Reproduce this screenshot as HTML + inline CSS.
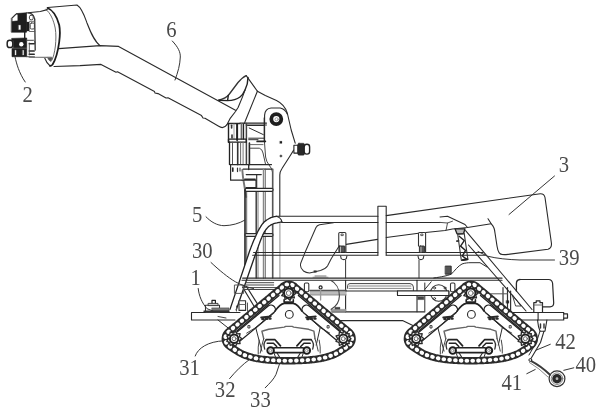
<!DOCTYPE html>
<html lang="en">
<head>
<meta charset="utf-8">
<title>Figure</title>
<style>
html,body{margin:0;padding:0;background:#fff;}
body{width:602px;height:417px;overflow:hidden;}
svg{display:block;will-change:transform;}
svg text{font-family:"Liberation Serif","DejaVu Serif",serif;}
svg path,svg line,svg circle,svg rect,svg ellipse{stroke-linecap:round;stroke-linejoin:round;}
</style>
</head>
<body>
<svg width="602" height="417" viewBox="0 0 602 417">
<rect x="0" y="0" width="602" height="417" fill="#ffffff" stroke="none"/>
<path d="M47.8,7.5 L77,5 C82,8 84.5,16 87,23 C90.5,32 94,41 100,45.6" stroke="#2a2a2a" stroke-width="1.1" fill="none" />
<path d="M58.7,48.6 L100,45.6 L118.6,46.4 L235.5,110.3" stroke="#2a2a2a" stroke-width="1.1" fill="none" />
<path d="M54,66.5 L80,65.6 L101,64.4 L116,72.3 L117.5,71.8 L154.5,91.6 L155,93 L158,93.6 L166,98 L168,97.8 L201.5,115.6 L203,118 L205,118.2 L218.7,126.3 Q223.5,129.5 227,124.6" stroke="#2a2a2a" stroke-width="1.1" fill="none" />
<path d="M47.5,8 C53,10 57,17 59.2,25 C60.2,30 60,36 59.2,42 C58,51 56,59 52.6,64.5 Q51,66.3 49.8,65.6" stroke="#1c1c1c" stroke-width="1.8" fill="none" />
<path d="M46,9.5 C50.5,13 53.5,20 55.2,28 C56.2,34 56,40 55.4,46 C54.6,52 53.5,57 52,60" stroke="#555" stroke-width="0.88" fill="none" />
<path d="M49.8,65.6 C47.5,63.5 45.8,61 44.8,58.2" stroke="#2a2a2a" stroke-width="1.1" fill="none" />
<path d="M47.3,57.4 L52.2,57.4 L51,61.5 Q49,61 47.3,57.4 Z" stroke="#555" stroke-width="0.66" fill="#555" />
<path d="M28,12.8 L40.3,11.5 L47.3,9.6" stroke="#2a2a2a" stroke-width="1.1" fill="none" />
<path d="M29.2,57.2 L51.4,57.4" stroke="#777" stroke-width="1.1" fill="none" />
<path d="M34.7,19 L35.2,50" stroke="#333" stroke-width="1.32" fill="none" />
<path d="M11.6,18.1 L16.1,13.6 L26.5,12.8 L26.5,32.2 L11.6,32.2 Z" stroke="#1e1e1e" stroke-width="0.66" fill="#1e1e1e" />
<path d="M12.6,18.6 L16.3,14.7 L17.4,14.7 L17.4,20.4 L12.6,21 Z" stroke="#fff" stroke-width="0.3" fill="#fff" />
<rect x="18.7" y="25.2" width="1.8" height="4.4" rx="0" stroke="#fff" stroke-width="0.2" fill="#fff"/>
<rect x="26.3" y="22" width="3" height="9" rx="0" stroke="#1e1e1e" stroke-width="0.3" fill="#1e1e1e"/>
<path d="M26.5,12.8 L31,13.5 Q34,15 34.6,19" stroke="#333" stroke-width="1.1" fill="none" />
<rect x="29.4" y="15.2" width="3.8" height="4.6" rx="1.6" stroke="#444" stroke-width="0.99" fill="none"/>
<rect x="30.2" y="23" width="4.2" height="6" rx="1.2" stroke="#444" stroke-width="0.99" fill="none"/>
<line x1="29.5" y1="21.3" x2="34.5" y2="21.3" stroke="#555" stroke-width="0.88"/>
<line x1="29.5" y1="31.5" x2="34.8" y2="31.5" stroke="#555" stroke-width="0.88"/>
<line x1="24.7" y1="32.2" x2="24.7" y2="38.2" stroke="#222" stroke-width="1.4"/>
<rect x="7.2" y="40.2" width="5.6" height="7.4" rx="2.6" stroke="#222" stroke-width="1.5" fill="#fff"/>
<path d="M12,38.4 L26.7,38 L26.7,56.7 L12,56.7 L12,48.6 L13.5,47.2 L13.5,41 L12,40.2 Z" stroke="#1e1e1e" stroke-width="0.66" fill="#1e1e1e" />
<ellipse cx="21.3" cy="44.3" rx="2.2" ry="2.2" fill="#fff" stroke="none"/>
<rect x="15.1" y="50.2" width="1.0" height="4.8" rx="0" stroke="#fff" stroke-width="0.2" fill="#fff"/>
<rect x="22.7" y="50.2" width="1.0" height="4.8" rx="0" stroke="#fff" stroke-width="0.2" fill="#fff"/>
<line x1="26.7" y1="48.2" x2="12.5" y2="48.2" stroke="#888" stroke-width="0.5"/>
<line x1="29.3" y1="43.7" x2="34.2" y2="43.7" stroke="#2a2a2a" stroke-width="1.6"/>
<line x1="29.3" y1="51.0" x2="34.2" y2="51.0" stroke="#2a2a2a" stroke-width="1.6"/>
<line x1="29.3" y1="54.2" x2="34.2" y2="54.2" stroke="#2a2a2a" stroke-width="1.6"/>
<path d="M26.7,40.3 L33.5,40.3 Q35,40.8 35.2,43" stroke="#444" stroke-width="0.99" fill="none" />
<line x1="29.3" y1="43" x2="29.3" y2="55" stroke="#444" stroke-width="0.88"/>
<line x1="26.7" y1="56.7" x2="34.5" y2="56.9" stroke="#444" stroke-width="0.99"/>
<path d="M246.2,75.6 L257.4,91.2" stroke="#2a2a2a" stroke-width="1.1" fill="none" />
<path d="M246.2,75.6 C243,77 240.5,79.5 238,82.5 L229,94.5 C227.3,96.8 224.5,98.7 218.5,100.2" stroke="#333" stroke-width="1.32" fill="none" />
<path d="M248,77.5 C248,82 247,86 245,90 C243.5,93.5 242,95.5 240,97 C237,99.2 233,100.4 227.5,100.6 L219,100.3" stroke="#222" stroke-width="1.43" fill="none" />
<path d="M228.3,95.5 L227.6,100.3" stroke="#222" stroke-width="1.43" fill="none" />
<path d="M245,90 L242.5,96.9 L238.1,107.5 L235.5,111.5 L230,118.7 L227,124.6" stroke="#2a2a2a" stroke-width="1.1" fill="none" />
<path d="M257.4,91.2 L245.2,121.2 L244.5,123.4" stroke="#2a2a2a" stroke-width="1.1" fill="none" />
<path d="M257.4,91.2 L265.3,95.6 L276.5,100.6 C281,102.8 285.5,107 287.4,113.5 L291.2,130 L295.2,143.1" stroke="#2a2a2a" stroke-width="1.1" fill="none" />
<path d="M293.7,150.1 L290,156 L282,168.5 Q279.9,171.5 279.8,175 L279.8,216" stroke="#2a2a2a" stroke-width="1.1" fill="none" />
<path d="M264.6,141 L264.6,115.1 Q265,108.6 271.1,108 L280.2,108 Q285,109 287.3,114" stroke="#2a2a2a" stroke-width="1.1" fill="none" />
<path d="M264.4,141.2 L265.6,157 Q266.3,161.5 269,165 Q272.2,168.5 272.4,172 L272.4,278" stroke="#444" stroke-width="0.99" fill="none" />
<circle cx="276.30" cy="119.10" r="5.0" stroke="#1e1e1e" stroke-width="3.8" fill="#fff"/>
<circle cx="276.60" cy="119.30" r="1.6" stroke="#888" stroke-width="0.77" fill="none"/>
<rect x="279.8" y="141.2" width="2.2" height="2.2" rx="0" stroke="#222" stroke-width="0.2" fill="#222"/>
<circle cx="280.90" cy="156.00" r="1.2" stroke="#555" stroke-width="0.2" fill="#555"/>
<rect x="293.9" y="145.3" width="4" height="7.8" rx="0" stroke="#222" stroke-width="1.1" fill="#fff"/>
<rect x="297.8" y="143.2" width="6.6" height="12" rx="1.2" stroke="#222" stroke-width="0.4" fill="#2a2a2a"/>
<rect x="304.2" y="144.3" width="5.4" height="9.8" rx="2.6" stroke="#222" stroke-width="1.4" fill="#fff"/>
<line x1="228.5" y1="123.5" x2="240" y2="123.5" stroke="#2a2a2a" stroke-width="1.32"/>
<line x1="240" y1="123.1" x2="266.5" y2="123.1" stroke="#2a2a2a" stroke-width="1.1"/>
<line x1="246" y1="125" x2="266.5" y2="125" stroke="#2a2a2a" stroke-width="0.99"/>
<line x1="228.5" y1="123.5" x2="228.5" y2="142.2" stroke="#222" stroke-width="1.4"/>
<line x1="237.1" y1="124" x2="237.1" y2="140" stroke="#222" stroke-width="2.0"/>
<line x1="241.3" y1="124" x2="241.3" y2="139" stroke="#666" stroke-width="1.32"/>
<line x1="243.4" y1="124" x2="243.4" y2="139" stroke="#222" stroke-width="1.5"/>
<line x1="246.4" y1="123.5" x2="246.4" y2="164" stroke="#444" stroke-width="1.5"/>
<line x1="231.6" y1="125.3" x2="231.6" y2="128" stroke="#333" stroke-width="1.6"/>
<line x1="232" y1="135" x2="232" y2="138" stroke="#333" stroke-width="1.6"/>
<line x1="234" y1="124" x2="234" y2="139" stroke="#888" stroke-width="0.77"/>
<rect x="228.5" y="139.2" width="17.8" height="3.0" rx="0" stroke="#222" stroke-width="1.32" fill="none"/>
<path d="M247.6,125.5 L263.8,125.5 M249.2,128 L263.3,134.6 M248.7,138.2 L263.8,138.2 M248.7,139.7 L258,139.7" stroke="#2a2a2a" stroke-width="0.99" fill="none" />
<line x1="264.3" y1="118" x2="264.3" y2="141" stroke="#2a2a2a" stroke-width="1.32"/>
<line x1="257.2" y1="141.4" x2="265.3" y2="141.4" stroke="#222" stroke-width="1.8"/>
<line x1="229.5" y1="142.2" x2="229.5" y2="164.6" stroke="#222" stroke-width="1.32"/>
<line x1="232.5" y1="142.2" x2="232.5" y2="164.6" stroke="#555" stroke-width="0.99"/>
<line x1="237.7" y1="142.2" x2="237.7" y2="164.6" stroke="#333" stroke-width="1.6"/>
<line x1="240.6" y1="142.2" x2="240.6" y2="164.6" stroke="#666" stroke-width="0.99"/>
<line x1="243.1" y1="142.2" x2="243.1" y2="164.6" stroke="#777" stroke-width="0.99"/>
<line x1="249.4" y1="143" x2="249.4" y2="164.6" stroke="#222" stroke-width="1.6"/>
<path d="M250.2,148.2 L259.3,148.2 Q262.3,149 263,153 L265.5,164" stroke="#444" stroke-width="0.99" fill="none" />
<line x1="250" y1="144.6" x2="263" y2="144.6" stroke="#555" stroke-width="0.88"/>
<line x1="230.6" y1="164.6" x2="271.5" y2="164.6" stroke="#2a2a2a" stroke-width="1.21"/>
<path d="M230.6,164.6 L230.6,180.2 L242.1,180.2" stroke="#2a2a2a" stroke-width="1.21" fill="none" />
<line x1="248.7" y1="164.6" x2="248.7" y2="169.5" stroke="#2a2a2a" stroke-width="1.32"/>
<line x1="232.8" y1="168" x2="232.8" y2="171.2" stroke="#222" stroke-width="1.6"/>
<line x1="237.5" y1="168" x2="237.5" y2="171.6" stroke="#333" stroke-width="1.21"/>
<line x1="240" y1="168" x2="240" y2="171" stroke="#444" stroke-width="1.1"/>
<path d="M242.3,170 L243.1,178.2 L246.2,197" stroke="#777" stroke-width="1.9" fill="none" />
<line x1="243.1" y1="169.1" x2="272.4" y2="169.1" stroke="#2a2a2a" stroke-width="1.1"/>
<line x1="246.2" y1="174.6" x2="261.3" y2="174.6" stroke="#2a2a2a" stroke-width="1.1"/>
<line x1="244.7" y1="179.2" x2="255.2" y2="179.2" stroke="#2a2a2a" stroke-width="1.43"/>
<line x1="256.7" y1="174.6" x2="256.7" y2="188.2" stroke="#2a2a2a" stroke-width="1.1"/>
<line x1="263.5" y1="169.1" x2="263.5" y2="278" stroke="#888" stroke-width="1.43"/>
<line x1="265.3" y1="169.1" x2="265.3" y2="278" stroke="#555" stroke-width="0.88"/>
<line x1="272.9" y1="169.1" x2="272.9" y2="278" stroke="#555" stroke-width="1.21"/>
<path d="M242.1,180.2 L256,180.2 L256,187.5 L246,187.5" stroke="#2a2a2a" stroke-width="1.1" fill="none" />
<line x1="245" y1="190" x2="245" y2="283" stroke="#222" stroke-width="1.6"/>
<line x1="246.7" y1="192" x2="246.7" y2="262" stroke="#555" stroke-width="0.88"/>
<line x1="256.2" y1="191" x2="256.2" y2="278" stroke="#333" stroke-width="1.4"/>
<line x1="258" y1="192" x2="258" y2="278" stroke="#666" stroke-width="0.88"/>
<line x1="279.9" y1="221" x2="279.9" y2="278" stroke="#999" stroke-width="1.1"/>
<rect x="245.2" y="188.3" width="27.8" height="3.0" rx="1.2" stroke="#2a2a2a" stroke-width="1.21" fill="#fff"/>
<rect x="245" y="233.7" width="28" height="2.6" rx="1.2" stroke="#2a2a2a" stroke-width="1.21" fill="#fff"/>
<path d="M276.2,216.3 L275.7,216.4 L275.1,216.6 L274.3,216.7 L273.5,216.9 L272.6,217.2 L271.7,217.4 L270.8,217.7 L270.0,218.1 L269.2,218.5 L268.4,219.0 L267.6,219.5 L266.7,220.0 L265.9,220.6 L265.1,221.2 L264.4,221.8 L263.7,222.5 L263.1,223.2 L262.5,223.9 L261.9,224.7 L261.4,225.5 L260.8,226.3 L260.4,227.1 L259.9,227.9 L259.4,228.7 L259.0,229.4 L258.6,230.2 L258.2,230.8 L257.8,231.5 L257.5,232.3 L257.1,233.1 L256.7,234.0 L256.2,235.0 L255.7,236.2 L255.1,237.5 L254.5,238.9 L253.8,240.3 L253.2,241.8 L252.6,243.3 L252.0,244.8 L251.4,246.2 L250.9,247.6 L250.3,249.2 L249.7,250.8 L249.2,252.3 L248.7,253.8 L248.3,255.1 L247.9,256.2 L247.6,257.0 L230.0,309.4 L236.2,310.0 L254.5,257.0 L254.6,256.6 L254.8,256.1 L255.0,255.5 L255.3,254.9 L255.5,254.1 L255.8,253.3 L256.2,252.3 L256.6,251.2 L257.1,249.9 L257.6,248.4 L258.2,246.8 L258.8,245.0 L259.5,243.3 L260.1,241.6 L260.7,240.0 L261.2,238.7 L261.7,237.6 L262.1,236.6 L262.5,235.7 L262.8,234.9 L263.2,234.1 L263.6,233.4 L264.0,232.6 L264.4,231.9 L264.9,231.1 L265.4,230.4 L265.9,229.7 L266.4,229.0 L267.0,228.3 L267.5,227.7 L268.1,227.1 L268.7,226.6 L269.3,226.1 L269.8,225.7 L270.4,225.3 L271.0,224.9 L271.6,224.6 L272.2,224.3 L272.9,224.0 L273.7,223.7 L274.6,223.4 L275.7,223.1 L276.9,222.9 L278.1,222.6 L279.3,222.4 L280.4,222.2 L281.2,222.0 L281.9,221.9 Z" stroke="#fff" stroke-width="0.1" fill="#fff" />
<path d="M276.2,216.3 L275.7,216.4 L275.1,216.6 L274.3,216.7 L273.5,216.9 L272.6,217.2 L271.7,217.4 L270.8,217.7 L270.0,218.1 L269.2,218.5 L268.4,219.0 L267.6,219.5 L266.7,220.0 L265.9,220.6 L265.1,221.2 L264.4,221.8 L263.7,222.5 L263.1,223.2 L262.5,223.9 L261.9,224.7 L261.4,225.5 L260.8,226.3 L260.4,227.1 L259.9,227.9 L259.4,228.7 L259.0,229.4 L258.6,230.2 L258.2,230.8 L257.8,231.5 L257.5,232.3 L257.1,233.1 L256.7,234.0 L256.2,235.0 L255.7,236.2 L255.1,237.5 L254.5,238.9 L253.8,240.3 L253.2,241.8 L252.6,243.3 L252.0,244.8 L251.4,246.2 L250.9,247.6 L250.3,249.2 L249.7,250.8 L249.2,252.3 L248.7,253.8 L248.3,255.1 L247.9,256.2 L247.6,257.0 L230.0,309.4" stroke="#222" stroke-width="1.32" fill="none" />
<path d="M281.9,221.9 L281.2,222.0 L280.4,222.2 L279.3,222.4 L278.1,222.6 L276.9,222.9 L275.7,223.1 L274.6,223.4 L273.7,223.7 L272.9,224.0 L272.2,224.3 L271.6,224.6 L271.0,224.9 L270.4,225.3 L269.8,225.7 L269.3,226.1 L268.7,226.6 L268.1,227.1 L267.5,227.7 L267.0,228.3 L266.4,229.0 L265.9,229.7 L265.4,230.4 L264.9,231.1 L264.4,231.9 L264.0,232.6 L263.6,233.4 L263.2,234.1 L262.8,234.9 L262.5,235.7 L262.1,236.6 L261.7,237.6 L261.2,238.7 L260.7,240.0 L260.1,241.6 L259.5,243.3 L258.8,245.0 L258.2,246.8 L257.6,248.4 L257.1,249.9 L256.6,251.2 L256.2,252.3 L255.8,253.3 L255.5,254.1 L255.3,254.9 L255.0,255.5 L254.8,256.1 L254.6,256.6 L254.5,257.0 L236.2,310.0" stroke="#222" stroke-width="1.32" fill="none" />
<path d="M276.2,216.3 Q281,217.5 281.9,221.9" stroke="#2a2a2a" stroke-width="1.1" fill="none" />
<line x1="276.2" y1="216.25" x2="377.9" y2="216.25" stroke="#2a2a2a" stroke-width="1.21"/>
<line x1="281.9" y1="222.5" x2="377.9" y2="222.5" stroke="#2a2a2a" stroke-width="1.21"/>
<line x1="386.2" y1="222.5" x2="440" y2="222.5" stroke="#2a2a2a" stroke-width="1.1"/>
<path d="M377.9,255 L377.9,206.3 L386.2,206.3 L386.2,255" stroke="#2a2a2a" stroke-width="1.1" fill="none" />
<line x1="253.6" y1="252.5" x2="377.9" y2="252.5" stroke="#2a2a2a" stroke-width="1.1"/>
<line x1="252.6" y1="255.3" x2="377.9" y2="255.3" stroke="#2a2a2a" stroke-width="1.1"/>
<line x1="386.2" y1="252.5" x2="483" y2="252.5" stroke="#2a2a2a" stroke-width="1.1"/>
<line x1="386.2" y1="255.3" x2="485" y2="255.3" stroke="#2a2a2a" stroke-width="1.1"/>
<line x1="242.7" y1="278.2" x2="502" y2="278.2" stroke="#2a2a2a" stroke-width="1.21"/>
<line x1="242" y1="280.3" x2="502" y2="280.3" stroke="#2a2a2a" stroke-width="1.1"/>
<path d="M242.5,287 L254.5,307" stroke="#2a2a2a" stroke-width="1.21" fill="none" />
<path d="M246.5,286.5 L258.5,305.5" stroke="#2a2a2a" stroke-width="1.21" fill="none" />
<path d="M386.2,215.6 L540.3,193.7 Q544.3,193.6 545,197.5 L551.4,243 Q552,248 548,249.2 L506,254.6 Q500,255 499,252.5 Q497.6,250 497,246 L495,233 Q494.6,227 491.2,223.8 L488,218.8" stroke="#2a2a2a" stroke-width="1.1" fill="none" />
<path d="M346.2,244.4 L377.5,239.4" stroke="#2a2a2a" stroke-width="1.1" fill="none" />
<path d="M386.2,237.6 L418.5,233.2 M425.6,232.6 L445,230.6 L452.5,228.9 L467.5,227.5 L491.2,223.8" stroke="#2a2a2a" stroke-width="1.045" fill="none" />
<path d="M440,217 L447.5,216.3 L465,224.5 L467.5,227.5" stroke="#2a2a2a" stroke-width="1.045" fill="none" />
<path d="M440,222.4 L447.5,223 L452.5,221.2 M447.5,223 L446.2,229.6" stroke="#444" stroke-width="0.935" fill="none" />
<path d="M333.5,222.8 L319.5,224.8 Q317,225.4 316,227.5 L305,252.5 L300.8,263 Q299.4,267.5 303.5,271 Q306,272.9 309.5,272.9 L320.5,270.4 Q325.5,269 327.5,266 L331.2,258.7 L339.5,245.5" stroke="#333" stroke-width="1.045" fill="none" />
<rect x="314" y="270.6" width="2.4" height="1.8" rx="0" stroke="#333" stroke-width="0.3" fill="#333"/>
<path d="M338.75,246 L338.75,233.6 Q338.75,232.5 339.85,232.5 L344.79999999999995,232.5 Q345.9,232.5 345.9,233.6 L345.9,252.5" stroke="#333" stroke-width="1.1" fill="#fff" />
<rect x="341.43" y="234" width="1.8" height="1.6" rx="0" stroke="#333" stroke-width="0.77" fill="none"/>
<rect x="338.9" y="246" width="6.1" height="6.4" rx="0.8" stroke="#222" stroke-width="0.88" fill="#555"/>
<line x1="340.5" y1="247" x2="340.5" y2="252" stroke="#ddd" stroke-width="0.77"/>
<path d="M340.6,256 L341.20000000000005,258.6 Q343.75,260.6 346.29999999999995,258.6 L346.9,256" stroke="#333" stroke-width="1.1" fill="#fff" />
<line x1="345.6" y1="260" x2="345.6" y2="278" stroke="#333" stroke-width="0.99"/>
<path d="M418.5,246 L418.5,233.6 Q418.5,232.5 419.6,232.5 L424.5,232.5 Q425.6,232.5 425.6,233.6 L425.6,252.5" stroke="#333" stroke-width="1.1" fill="#fff" />
<rect x="421.15" y="234" width="1.8" height="1.6" rx="0" stroke="#333" stroke-width="0.77" fill="none"/>
<rect x="419.4" y="246" width="5.2" height="6.4" rx="0.8" stroke="#222" stroke-width="0.88" fill="#555"/>
<line x1="421.0" y1="247" x2="421.0" y2="252" stroke="#ddd" stroke-width="0.77"/>
<path d="M418.0,256 L418.6,258.6 Q420.9,260.6 423.2,258.6 L423.8,256" stroke="#333" stroke-width="1.1" fill="#fff" />
<line x1="419.0" y1="260" x2="419.0" y2="278" stroke="#333" stroke-width="0.99"/>
<line x1="345.6" y1="280.3" x2="345.6" y2="311.8" stroke="#2a2a2a" stroke-width="1.1"/>
<line x1="417" y1="280.3" x2="417" y2="311.8" stroke="#2a2a2a" stroke-width="1.1"/>
<line x1="424.8" y1="283" x2="424.8" y2="291" stroke="#2a2a2a" stroke-width="0.99"/>
<line x1="424.8" y1="295.5" x2="424.8" y2="311" stroke="#2a2a2a" stroke-width="0.99"/>
<path d="M347.6,288.3 L347.6,285.6 Q347.8,283.6 350,283.6 L410,283.6 Q413.2,283.8 413.4,287 L413.4,291" stroke="#444" stroke-width="0.99" fill="none" />
<path d="M349,286 L411,286 M349,288.4 L411,288.4" stroke="#777" stroke-width="0.88" fill="none" />
<rect x="310" y="290.4" width="36" height="4.4" rx="0" stroke="#aaa" stroke-width="0.3" fill="#bbb"/>
<line x1="310" y1="290.6" x2="346" y2="290.6" stroke="#555" stroke-width="1.5"/>
<line x1="310" y1="294.9" x2="346" y2="294.9" stroke="#999" stroke-width="1.1"/>
<line x1="346" y1="291" x2="397.5" y2="291" stroke="#2a2a2a" stroke-width="1.1"/>
<rect x="397.5" y="291" width="51.3" height="4.5" rx="0" stroke="#2a2a2a" stroke-width="1.1" fill="#fff"/>
<line x1="332" y1="311.8" x2="424.8" y2="311.8" stroke="#2a2a2a" stroke-width="1.32"/>
<rect x="331" y="309.2" width="15" height="2.4" rx="0" stroke="#888" stroke-width="0.3" fill="#999"/>
<rect x="335" y="307.2" width="5" height="2" rx="0" stroke="#444" stroke-width="0.3" fill="#444"/>
<path d="M336,320.6 L402.5,320.6 L417,327.5" stroke="#2a2a2a" stroke-width="1.1" fill="none" />
<path d="M331,280.6 C336,283 339.4,289 339.4,296 C339.3,301.5 336,306.5 331.2,309.3" stroke="#444" stroke-width="1.1" fill="none" />
<path d="M313,277.3 L328,277.3 M315,276 L326,276" stroke="#666" stroke-width="0.88" fill="none" />
<circle cx="320.60" cy="287.40" r="1.5" stroke="#222" stroke-width="1.21" fill="none"/>
<line x1="320.6" y1="289.5" x2="320.6" y2="300" stroke="#999" stroke-width="1.32"/>
<rect x="304.4" y="283" width="4.4" height="8.8" rx="1.2" stroke="#333" stroke-width="1.1" fill="none"/>
<circle cx="438.70" cy="293.00" r="8.2" stroke="#333" stroke-width="1.1" fill="none"/>
<circle cx="434.60" cy="288.00" r="1.0" stroke="#333" stroke-width="0.88" fill="none"/>
<circle cx="445.00" cy="288.00" r="1.0" stroke="#333" stroke-width="0.88" fill="none"/>
<circle cx="434.60" cy="298.50" r="1.0" stroke="#333" stroke-width="0.88" fill="none"/>
<path d="M425,289.2 L431.2,281.8" stroke="#2a2a2a" stroke-width="0.99" fill="none" />
<rect x="397.5" y="291" width="51.3" height="4.5" rx="0" stroke="#2a2a2a" stroke-width="1.1" fill="#fff"/>
<rect x="450.5" y="283" width="4.4" height="8.8" rx="1.2" stroke="#333" stroke-width="1.1" fill="none"/>
<rect x="417.8" y="296.6" width="6" height="3" rx="0" stroke="#333" stroke-width="0.4" fill="#444"/>
<path d="M520,279.5 L548.5,279.5 Q552.3,279.7 552.6,283.5 L553.7,303 Q553.6,306.7 550,306.9 L542.5,306.9" stroke="#2a2a2a" stroke-width="1.21" fill="none" />
<path d="M520,279.5 Q516.4,279.7 516.4,283.5 L516.4,291" stroke="#2a2a2a" stroke-width="1.32" fill="none" />
<path d="M240,312.5 L191.5,312.5 L191.5,320 L235,320" stroke="#2a2a2a" stroke-width="1.1" fill="none" />
<path d="M218,320 L232,331" stroke="#2a2a2a" stroke-width="0.99" fill="none" />
<rect x="205.5" y="305.2" width="14" height="7" rx="0" stroke="#333" stroke-width="1.1" fill="#fff"/>
<rect x="212" y="300.3" width="3.4" height="4.4" rx="0" stroke="#222" stroke-width="1.21" fill="#fff"/>
<rect x="208.5" y="303.4" width="9.5" height="2.2" rx="0" stroke="#333" stroke-width="0.88" fill="#ccc"/>
<rect x="212" y="307.9" width="17" height="3.2" rx="0" stroke="#444" stroke-width="0.5" fill="#777"/>
<line x1="204" y1="311.2" x2="229" y2="311.2" stroke="#333" stroke-width="1.4"/>
<path d="M218,316.5 L226,318" stroke="#444" stroke-width="0.99" fill="none" />
<rect x="234.8" y="285" width="8.8" height="8.4" rx="0" stroke="#555" stroke-width="0.99" fill="none"/>
<rect x="239" y="300.8" width="6.6" height="9.6" rx="0" stroke="#333" stroke-width="1.1" fill="#fff"/>
<line x1="239" y1="304.5" x2="245.6" y2="304.5" stroke="#555" stroke-width="0.88"/>
<path d="M236.5,306 L236.5,311 M247.5,303 L247.5,311" stroke="#555" stroke-width="0.99" fill="none" />
<path d="M245.6,282.7 L273.7,282.7 M245.6,285 L273.7,285 M243.7,287.6 L281,287.6 M243.7,289.5 L281,289.5" stroke="#444" stroke-width="0.99" fill="none" />
<path d="M512.5,312.5 L563.7,312.5 L563.7,313.8 L567.5,313.8 L567.5,318.1 L563.7,318.1 L563.7,320 L520,320" stroke="#2a2a2a" stroke-width="1.21" fill="none" />
<line x1="538.1" y1="312.5" x2="538.1" y2="320" stroke="#2a2a2a" stroke-width="1.1"/>
<line x1="563.7" y1="313.8" x2="563.7" y2="318.1" stroke="#2a2a2a" stroke-width="0.99"/>
<path d="M533.8,312.5 L533.8,302.6 L536.2,302.6 L536.2,300.8 L540,300.8 L540,302.6 L542.5,302.6 L542.5,312.5" stroke="#2a2a2a" stroke-width="1.21" fill="none" />
<line x1="533.8" y1="305" x2="542.5" y2="305" stroke="#555" stroke-width="0.88"/>
<path d="M537.5,320 L538.5,326.5 L540,331.2 L545,331.2 L546.9,320" stroke="#2a2a2a" stroke-width="1.1" fill="none" />
<path d="M540.5,324 L540.5,328 M544,324 L544,328" stroke="#333" stroke-width="1.43" fill="none" />
<path d="M503,287.5 L503,311 M507.5,287.5 L507.5,311 M510.6,291 L510.6,311" stroke="#333" stroke-width="1.21" fill="none" />
<line x1="491" y1="293.8" x2="507.5" y2="293.8" stroke="#555" stroke-width="0.99"/>
<rect x="506.3" y="300.6" width="2.6" height="2.6" rx="0" stroke="#222" stroke-width="0.3" fill="#222"/>
<path d="M512.5,295 L521,306 L516,306 Z" stroke="#444" stroke-width="0.99" fill="none" />
<path d="M465.6,230.6 L503,275 L532,309.5" stroke="#2a2a2a" stroke-width="1.1" fill="none" />
<path d="M468.5,245 L495,275.5 L526,311" stroke="#2a2a2a" stroke-width="1.1" fill="none" />
<path d="M455,228.8 L465,228.8 L463.5,233.8 L457,233.8 Z" stroke="#222" stroke-width="1.32" fill="#bbb" />
<g transform="rotate(-8 460.5 232)">
<rect x="457.4" y="233.8" width="6.6" height="26.5" rx="0" stroke="#333" stroke-width="1.1" fill="none"/>
<path d="M458.6,236 L463,241 L458.6,246 L463,251 L459,256 L462.4,259.4" stroke="#222" stroke-width="1.4" fill="none" />
<path d="M459,260 L463.5,260" stroke="#222" stroke-width="2.0" fill="none" />
<line x1="455.6" y1="240.5" x2="457.4" y2="240.5" stroke="#333" stroke-width="1.6"/>
</g>
<path d="M433.8,278 C442,276.8 447,275.8 451.2,274.2 C455,270.5 458,266 462,264 C465,262.9 468,262.7 471,262.7 L480,262.7 L487,267" stroke="#2a2a2a" stroke-width="0.99" fill="none" />
<rect x="445.6" y="266.1" width="5.6" height="8.1" rx="0" stroke="#222" stroke-width="0.88" fill="#555"/>
<circle cx="557.00" cy="378.70" r="7.9" stroke="#333" stroke-width="1.21" fill="#fff"/>
<circle cx="557.00" cy="378.70" r="5.8" stroke="#666" stroke-width="0.77" fill="none"/>
<circle cx="557.00" cy="378.70" r="3.1" stroke="#2a2a2a" stroke-width="3.4" fill="#bbb"/>
<path d="M530.4,360.6 Q541,366 550,374.8" stroke="#3a3a3a" stroke-width="1.9" fill="none" />
<path d="M529.5,362.5 Q539,368 548,377" stroke="#666" stroke-width="0.77" fill="none" />
<circle cx="530.30" cy="360.00" r="1.4" stroke="#2a2a2a" stroke-width="0.99" fill="#fff"/>
<path d="M544,331.2 L540.5,342.5 L531,358.5" stroke="#2a2a2a" stroke-width="1.1" fill="none" />
<path d="M540,331.2 L536.5,342 L529,355" stroke="#2a2a2a" stroke-width="0.99" fill="none" />
<g>
<path d="M268.23,306.03 L232.82,335.6 A4.4 4.4 0 0 0 238.46,342.36 L273.87,312.78 A4.4 4.4 0 0 0 268.23,306.03 Z" stroke="#222" stroke-width="1.265" fill="#fff" />
<rect x="248.3" y="325.6" width="1.6" height="2.4" rx="0" stroke="#2a2a2a" stroke-width="0.88" fill="none"/>
<path d="M261.2,317.4 L270.7,316.4 M262.2,319.3 l1.5,0 M265.7,319.1 l1.5,0 M269.2,318.7 l1.5,0" stroke="#2a2a2a" stroke-width="2" fill="none" stroke-linecap="butt"/>
<path d="M309.17,306.03 L344.58,335.6 A4.4 4.4 0 0 1 338.94,342.36 L303.53,312.78 A4.4 4.4 0 0 1 309.17,306.03 Z" stroke="#222" stroke-width="1.265" fill="#fff" />
<rect x="327.5" y="325.6" width="1.6" height="2.4" rx="0" stroke="#2a2a2a" stroke-width="0.88" fill="none"/>
<path d="M306.2,317.4 L315.7,316.4 M307.2,319.3 l1.5,0 M310.7,319.1 l1.5,0 M314.2,318.7 l1.5,0" stroke="#2a2a2a" stroke-width="2" fill="none" stroke-linecap="butt"/>
<path d="M275.0,311.1 Q279.7,304.1 284.2,303.3 L293.2,303.3 Q297.7,304.1 301.9,311.1" stroke="#222" stroke-width="1.7" fill="none" />
<path d="M284.1,299.7 L284.1,302.1 L293.3,302.1 L293.3,299.7" stroke="#222" stroke-width="1.6" fill="none" />
<path d="M275.0,311.1 L255.7,327.6 L261.9,351.1" stroke="#2a2a2a" stroke-width="0.99" fill="none" />
<path d="M301.9,311.1 L320.2,327.6 L316.2,345.1" stroke="#2a2a2a" stroke-width="0.99" fill="none" />
<path d="M255.7,327.6 L246.7,333.1 M320.2,327.6 L329.7,333.1" stroke="#2a2a2a" stroke-width="0.88" fill="none" />
<circle cx="289.30" cy="314.40" r="3.9" stroke="#2a2a2a" stroke-width="1.1" fill="none"/>
<path d="M263.7,338.7 L261.9,331.2 L268.7,329.3 L284.2,327.1 L285.7,326.4 L292.2,326.4 L293.7,327.1 L308.7,329.3 L313.9,331.2 L315.0,338.7" stroke="#666" stroke-width="1.43" fill="none" />
<path d="M263.7,338.7 Q261.7,345.1 260.2,353.1 M315.0,338.7 Q316.7,344.1 318.2,351.1" stroke="#444" stroke-width="0.99" fill="none" />
<path d="M259.2,340.1 Q257.7,347.1 258.2,354.1 M319.2,340.1 Q320.7,347.1 320.2,353.1" stroke="#444" stroke-width="0.99" fill="none" />
<path d="M266.2,339.7 L275.0,339.7 L280.5,345.9" stroke="#222" stroke-width="1.7" fill="none" />
<path d="M267.2,343.3 L273.5,343.3 L276.7,346.5" stroke="#222" stroke-width="1.5" fill="none" />
<path d="M266.2,339.7 Q262.7,343.1 264.7,349.1" stroke="#333" stroke-width="1.32" fill="none" />
<path d="M276.9,352.7 L280.0,357.7" stroke="#2a2a2a" stroke-width="1.1" fill="none" />
<path d="M274.2,353.5 L275.7,357.7" stroke="#2a2a2a" stroke-width="0.99" fill="none" />
<path d="M311.2,339.7 L302.4,339.7 L296.9,345.9" stroke="#222" stroke-width="1.7" fill="none" />
<path d="M310.2,343.3 L303.9,343.3 L300.7,346.5" stroke="#222" stroke-width="1.5" fill="none" />
<path d="M311.2,339.7 Q314.7,343.1 312.7,349.1" stroke="#333" stroke-width="1.32" fill="none" />
<path d="M300.5,352.7 L297.4,357.7" stroke="#2a2a2a" stroke-width="1.1" fill="none" />
<path d="M303.2,353.5 L301.7,357.7" stroke="#2a2a2a" stroke-width="0.99" fill="none" />
<rect x="272.7" y="347.7" width="32" height="4.9" rx="2.4" stroke="#222" stroke-width="1.6" fill="#fff"/>
<circle cx="270.60" cy="350.60" r="3.3" stroke="#1c1c1c" stroke-width="1.9" fill="#fff"/>
<circle cx="270.60" cy="350.60" r="1.3" stroke="#777" stroke-width="0.66" fill="none"/>
<circle cx="306.80" cy="350.60" r="3.3" stroke="#1c1c1c" stroke-width="1.9" fill="#fff"/>
<circle cx="306.80" cy="350.60" r="1.3" stroke="#777" stroke-width="0.66" fill="none"/>
<line x1="279.04" y1="295.57" x2="236.72" y2="330.91" stroke="#222" stroke-width="1.32"/>
<line x1="298.36" y1="295.57" x2="340.68" y2="330.91" stroke="#222" stroke-width="1.32"/>
<path d="M281.9,287.5 L283.0,286.4 L284.3,285.5 L285.7,284.8 L287.2,284.4 L288.7,284.3 L290.2,284.4 L291.7,284.8 L293.1,285.5 L294.4,286.4 L295.5,287.5 L296.8,288.6 L298.1,289.7 L299.5,290.8 L300.8,291.9 L302.1,293.0 L303.5,294.1 L304.8,295.2 L306.2,296.4 L307.5,297.5 L308.8,298.6 L310.2,299.7 L311.5,300.8 L312.8,301.9 L314.2,303.0 L315.5,304.1 L316.8,305.3 L318.2,306.4 L319.5,307.5 L320.9,308.6 L322.2,309.7 L323.5,310.8 L324.9,311.9 L326.2,313.0 L327.5,314.2 L328.9,315.3 L330.2,316.4 L331.6,317.5 L332.9,318.6 L334.2,319.7 L335.6,320.8 L336.9,321.9 L338.2,323.0 L339.6,324.2 L340.9,325.3 L342.3,326.4 L343.6,327.5 L344.9,328.6 L346.3,329.7 L347.6,330.8 L348.9,331.9 L349.7,332.7 L350.4,333.5 L351.0,334.4 L351.5,335.4 L351.8,336.4 L352.0,337.5 L352.1,338.5 L352.1,339.6 L351.9,340.7 L351.6,341.7 L351.1,342.7 L350.6,343.6 L349.9,344.5 L349.2,345.2 L348.3,345.9 L347.2,346.6 L345.7,347.6 L343.9,348.8 L341.9,350.1 L339.9,351.4 L338.0,352.6 L336.3,353.5 L334.8,354.2 L333.3,354.8 L332.0,355.4 L330.6,355.8 L329.3,356.2 L328.0,356.6 L326.7,357.0 L325.4,357.4 L324.2,357.7 L323.1,358.0 L321.9,358.2 L320.7,358.5 L319.4,358.7 L318.1,358.9 L316.6,359.1 L315.1,359.3 L313.5,359.5 L311.9,359.7 L310.2,359.8 L308.6,360.0 L307.1,360.1 L305.6,360.2 L304.1,360.3 L302.6,360.4 L301.2,360.5 L299.7,360.5 L298.3,360.6 L297.0,360.6 L295.7,360.6 L294.5,360.7 L293.3,360.7 L292.2,360.7 L291.0,360.7 L289.9,360.7 L288.7,360.7 L287.5,360.7 L286.4,360.7 L285.2,360.7 L284.1,360.7 L282.9,360.7 L281.7,360.6 L280.4,360.6 L279.1,360.6 L277.7,360.5 L276.2,360.5 L274.8,360.4 L273.3,360.3 L271.8,360.2 L270.3,360.1 L268.8,360.0 L267.2,359.8 L265.5,359.7 L263.9,359.5 L262.3,359.3 L260.8,359.1 L259.3,358.9 L258.0,358.7 L256.7,358.5 L255.5,358.2 L254.3,358.0 L253.2,357.7 L252.0,357.4 L250.7,357.0 L249.4,356.6 L248.1,356.2 L246.8,355.8 L245.4,355.4 L244.1,354.8 L242.6,354.2 L241.1,353.5 L239.4,352.6 L237.5,351.4 L235.5,350.1 L233.5,348.8 L231.7,347.6 L230.2,346.6 L229.1,345.9 L228.2,345.2 L227.5,344.5 L226.8,343.6 L226.3,342.7 L225.8,341.7 L225.5,340.7 L225.3,339.6 L225.3,338.5 L225.4,337.5 L225.6,336.4 L225.9,335.4 L226.4,334.4 L227.0,333.5 L227.7,332.7 L228.5,331.9 L229.8,330.8 L231.1,329.7 L232.5,328.6 L233.8,327.5 L235.1,326.4 L236.5,325.3 L237.8,324.2 L239.2,323.0 L240.5,321.9 L241.8,320.8 L243.2,319.7 L244.5,318.6 L245.8,317.5 L247.2,316.4 L248.5,315.3 L249.9,314.2 L251.2,313.0 L252.5,311.9 L253.9,310.8 L255.2,309.7 L256.5,308.6 L257.9,307.5 L259.2,306.4 L260.6,305.3 L261.9,304.1 L263.2,303.0 L264.6,301.9 L265.9,300.8 L267.2,299.7 L268.6,298.6 L269.9,297.5 L271.2,296.4 L272.6,295.2 L273.9,294.1 L275.3,293.0 L276.6,291.9 L277.9,290.8 L279.3,289.7 L280.6,288.6 Z" stroke="#2c2c2c" stroke-width="7.4" fill="none" />
<ellipse cx="281.9" cy="287.5" rx="2.35" ry="2.05" transform="rotate(-48 281.9 287.5)" fill="#fff" stroke="none"/>
<ellipse cx="286.8" cy="284.5" rx="2.35" ry="2.05" transform="rotate(-13 286.8 284.5)" fill="#fff" stroke="none"/>
<ellipse cx="292.4" cy="285.1" rx="2.35" ry="2.05" transform="rotate(28 292.4 285.1)" fill="#fff" stroke="none"/>
<ellipse cx="297.0" cy="288.7" rx="2.35" ry="2.05" transform="rotate(40 297.0 288.7)" fill="#fff" stroke="none"/>
<ellipse cx="301.4" cy="292.4" rx="2.35" ry="2.05" transform="rotate(40 301.4 292.4)" fill="#fff" stroke="none"/>
<ellipse cx="305.9" cy="296.1" rx="2.35" ry="2.05" transform="rotate(40 305.9 296.1)" fill="#fff" stroke="none"/>
<ellipse cx="310.3" cy="299.8" rx="2.35" ry="2.05" transform="rotate(40 310.3 299.8)" fill="#fff" stroke="none"/>
<ellipse cx="314.8" cy="303.5" rx="2.35" ry="2.05" transform="rotate(40 314.8 303.5)" fill="#fff" stroke="none"/>
<ellipse cx="319.2" cy="307.2" rx="2.35" ry="2.05" transform="rotate(40 319.2 307.2)" fill="#fff" stroke="none"/>
<ellipse cx="323.6" cy="310.9" rx="2.35" ry="2.05" transform="rotate(40 323.6 310.9)" fill="#fff" stroke="none"/>
<ellipse cx="328.1" cy="314.6" rx="2.35" ry="2.05" transform="rotate(40 328.1 314.6)" fill="#fff" stroke="none"/>
<ellipse cx="332.5" cy="318.3" rx="2.35" ry="2.05" transform="rotate(40 332.5 318.3)" fill="#fff" stroke="none"/>
<ellipse cx="337.0" cy="322.0" rx="2.35" ry="2.05" transform="rotate(40 337.0 322.0)" fill="#fff" stroke="none"/>
<ellipse cx="341.4" cy="325.7" rx="2.35" ry="2.05" transform="rotate(40 341.4 325.7)" fill="#fff" stroke="none"/>
<ellipse cx="345.9" cy="329.4" rx="2.35" ry="2.05" transform="rotate(40 345.9 329.4)" fill="#fff" stroke="none"/>
<ellipse cx="350.2" cy="333.2" rx="2.35" ry="2.05" transform="rotate(52 350.2 333.2)" fill="#fff" stroke="none"/>
<ellipse cx="352.1" cy="338.6" rx="2.35" ry="2.05" transform="rotate(91 352.1 338.6)" fill="#fff" stroke="none"/>
<ellipse cx="350.3" cy="344.0" rx="2.35" ry="2.05" transform="rotate(126 350.3 344.0)" fill="#fff" stroke="none"/>
<ellipse cx="345.8" cy="347.6" rx="2.35" ry="2.05" transform="rotate(146 345.8 347.6)" fill="#fff" stroke="none"/>
<ellipse cx="341.0" cy="350.7" rx="2.35" ry="2.05" transform="rotate(147 341.0 350.7)" fill="#fff" stroke="none"/>
<ellipse cx="336.0" cy="353.7" rx="2.35" ry="2.05" transform="rotate(154 336.0 353.7)" fill="#fff" stroke="none"/>
<ellipse cx="330.6" cy="355.8" rx="2.35" ry="2.05" transform="rotate(162 330.6 355.8)" fill="#fff" stroke="none"/>
<ellipse cx="325.1" cy="357.5" rx="2.35" ry="2.05" transform="rotate(165 325.1 357.5)" fill="#fff" stroke="none"/>
<ellipse cx="319.4" cy="358.7" rx="2.35" ry="2.05" transform="rotate(171 319.4 358.7)" fill="#fff" stroke="none"/>
<ellipse cx="313.7" cy="359.5" rx="2.35" ry="2.05" transform="rotate(174 313.7 359.5)" fill="#fff" stroke="none"/>
<ellipse cx="307.9" cy="360.0" rx="2.35" ry="2.05" transform="rotate(175 307.9 360.0)" fill="#fff" stroke="none"/>
<ellipse cx="302.2" cy="360.4" rx="2.35" ry="2.05" transform="rotate(177 302.2 360.4)" fill="#fff" stroke="none"/>
<ellipse cx="296.4" cy="360.6" rx="2.35" ry="2.05" transform="rotate(178 296.4 360.6)" fill="#fff" stroke="none"/>
<ellipse cx="290.6" cy="360.7" rx="2.35" ry="2.05" transform="rotate(180 290.6 360.7)" fill="#fff" stroke="none"/>
<ellipse cx="284.8" cy="360.7" rx="2.35" ry="2.05" transform="rotate(-180 284.8 360.7)" fill="#fff" stroke="none"/>
<ellipse cx="279.0" cy="360.6" rx="2.35" ry="2.05" transform="rotate(-178 279.0 360.6)" fill="#fff" stroke="none"/>
<ellipse cx="273.3" cy="360.3" rx="2.35" ry="2.05" transform="rotate(-177 273.3 360.3)" fill="#fff" stroke="none"/>
<ellipse cx="267.5" cy="359.9" rx="2.35" ry="2.05" transform="rotate(-175 267.5 359.9)" fill="#fff" stroke="none"/>
<ellipse cx="261.7" cy="359.2" rx="2.35" ry="2.05" transform="rotate(-173 261.7 359.2)" fill="#fff" stroke="none"/>
<ellipse cx="256.0" cy="358.3" rx="2.35" ry="2.05" transform="rotate(-169 256.0 358.3)" fill="#fff" stroke="none"/>
<ellipse cx="250.4" cy="356.9" rx="2.35" ry="2.05" transform="rotate(-164 250.4 356.9)" fill="#fff" stroke="none"/>
<ellipse cx="244.9" cy="355.2" rx="2.35" ry="2.05" transform="rotate(-160 244.9 355.2)" fill="#fff" stroke="none"/>
<ellipse cx="239.7" cy="352.7" rx="2.35" ry="2.05" transform="rotate(-150 239.7 352.7)" fill="#fff" stroke="none"/>
<ellipse cx="234.8" cy="349.7" rx="2.35" ry="2.05" transform="rotate(-147 234.8 349.7)" fill="#fff" stroke="none"/>
<ellipse cx="229.9" cy="346.5" rx="2.35" ry="2.05" transform="rotate(-147 229.9 346.5)" fill="#fff" stroke="none"/>
<ellipse cx="226.1" cy="342.3" rx="2.35" ry="2.05" transform="rotate(-115 226.1 342.3)" fill="#fff" stroke="none"/>
<ellipse cx="225.5" cy="336.7" rx="2.35" ry="2.05" transform="rotate(-77 225.5 336.7)" fill="#fff" stroke="none"/>
<ellipse cx="228.6" cy="331.8" rx="2.35" ry="2.05" transform="rotate(-40 228.6 331.8)" fill="#fff" stroke="none"/>
<ellipse cx="233.0" cy="328.1" rx="2.35" ry="2.05" transform="rotate(-40 233.0 328.1)" fill="#fff" stroke="none"/>
<ellipse cx="237.5" cy="324.5" rx="2.35" ry="2.05" transform="rotate(-40 237.5 324.5)" fill="#fff" stroke="none"/>
<ellipse cx="241.9" cy="320.8" rx="2.35" ry="2.05" transform="rotate(-40 241.9 320.8)" fill="#fff" stroke="none"/>
<ellipse cx="246.4" cy="317.1" rx="2.35" ry="2.05" transform="rotate(-40 246.4 317.1)" fill="#fff" stroke="none"/>
<ellipse cx="250.8" cy="313.4" rx="2.35" ry="2.05" transform="rotate(-40 250.8 313.4)" fill="#fff" stroke="none"/>
<ellipse cx="255.3" cy="309.7" rx="2.35" ry="2.05" transform="rotate(-40 255.3 309.7)" fill="#fff" stroke="none"/>
<ellipse cx="259.7" cy="306.0" rx="2.35" ry="2.05" transform="rotate(-40 259.7 306.0)" fill="#fff" stroke="none"/>
<ellipse cx="264.2" cy="302.3" rx="2.35" ry="2.05" transform="rotate(-40 264.2 302.3)" fill="#fff" stroke="none"/>
<ellipse cx="268.6" cy="298.6" rx="2.35" ry="2.05" transform="rotate(-40 268.6 298.6)" fill="#fff" stroke="none"/>
<ellipse cx="273.1" cy="294.9" rx="2.35" ry="2.05" transform="rotate(-40 273.1 294.9)" fill="#fff" stroke="none"/>
<ellipse cx="277.5" cy="291.2" rx="2.35" ry="2.05" transform="rotate(-40 277.5 291.2)" fill="#fff" stroke="none"/>
<path d="M296.1,293.1 L293.6,294.9 L294.4,297.9 L291.3,297.6 L290.0,300.4 L287.8,298.2 L285.0,299.5 L284.7,296.4 L281.7,295.6 L283.5,293.1 L281.7,290.6 L284.7,289.8 L285.0,286.7 L287.8,288.0 L290.0,285.8 L291.3,288.6 L294.4,288.3 L293.6,291.3 Z" stroke="#2a2a2a" stroke-width="1.32" fill="#fff" />
<circle cx="288.70" cy="293.10" r="4.7" stroke="#222" stroke-width="2.0" fill="#fff"/>
<circle cx="288.70" cy="293.10" r="2.4" stroke="#555" stroke-width="0.88" fill="#fff"/>
<path d="M241.9,338.7 L239.4,340.6 L240.1,343.7 L236.9,343.5 L235.5,346.4 L233.1,344.2 L230.2,345.5 L229.8,342.3 L226.8,341.4 L228.5,338.7 L226.8,336.0 L229.8,335.1 L230.2,331.9 L233.1,333.2 L235.5,331.0 L236.9,333.9 L240.1,333.7 L239.4,336.8 Z" stroke="#2a2a2a" stroke-width="1.32" fill="#fff" />
<circle cx="234.10" cy="338.70" r="4.2" stroke="#222" stroke-width="2.0" fill="#fff"/>
<circle cx="234.10" cy="338.70" r="2.0" stroke="#555" stroke-width="0.88" fill="#fff"/>
<path d="M351.1,338.7 L348.6,340.6 L349.3,343.7 L346.1,343.5 L344.7,346.4 L342.3,344.2 L339.4,345.5 L339.0,342.3 L336.0,341.4 L337.7,338.7 L336.0,336.0 L339.0,335.1 L339.4,331.9 L342.3,333.2 L344.7,331.0 L346.1,333.9 L349.3,333.7 L348.6,336.8 Z" stroke="#2a2a2a" stroke-width="1.32" fill="#fff" />
<circle cx="343.30" cy="338.70" r="4.2" stroke="#222" stroke-width="2.0" fill="#fff"/>
<circle cx="343.30" cy="338.70" r="2.0" stroke="#555" stroke-width="0.88" fill="#fff"/>
</g>
<g>
<path d="M450.33,306.03 L414.92,335.6 A4.4 4.4 0 0 0 420.56,342.36 L455.97,312.78 A4.4 4.4 0 0 0 450.33,306.03 Z" stroke="#222" stroke-width="1.265" fill="#fff" />
<rect x="430.4" y="325.6" width="1.6" height="2.4" rx="0" stroke="#2a2a2a" stroke-width="0.88" fill="none"/>
<path d="M443.3,317.4 L452.8,316.4 M444.3,319.3 l1.5,0 M447.8,319.1 l1.5,0 M451.3,318.7 l1.5,0" stroke="#2a2a2a" stroke-width="2" fill="none" stroke-linecap="butt"/>
<path d="M491.27,306.03 L526.68,335.6 A4.4 4.4 0 0 1 521.04,342.36 L485.63,312.78 A4.4 4.4 0 0 1 491.27,306.03 Z" stroke="#222" stroke-width="1.265" fill="#fff" />
<rect x="509.6" y="325.6" width="1.6" height="2.4" rx="0" stroke="#2a2a2a" stroke-width="0.88" fill="none"/>
<path d="M488.3,317.4 L497.8,316.4 M489.3,319.3 l1.5,0 M492.8,319.1 l1.5,0 M496.3,318.7 l1.5,0" stroke="#2a2a2a" stroke-width="2" fill="none" stroke-linecap="butt"/>
<path d="M457.1,311.1 Q461.8,304.1 466.3,303.3 L475.3,303.3 Q479.8,304.1 484.0,311.1" stroke="#222" stroke-width="1.7" fill="none" />
<path d="M466.2,299.7 L466.2,302.1 L475.4,302.1 L475.4,299.7" stroke="#222" stroke-width="1.6" fill="none" />
<path d="M457.1,311.1 L437.8,327.6 L444.0,351.1" stroke="#2a2a2a" stroke-width="0.99" fill="none" />
<path d="M484.0,311.1 L502.3,327.6 L498.3,345.1" stroke="#2a2a2a" stroke-width="0.99" fill="none" />
<path d="M437.8,327.6 L428.8,333.1 M502.3,327.6 L511.8,333.1" stroke="#2a2a2a" stroke-width="0.88" fill="none" />
<circle cx="471.40" cy="314.40" r="3.9" stroke="#2a2a2a" stroke-width="1.1" fill="none"/>
<path d="M445.8,338.7 L444.0,331.2 L450.8,329.3 L466.3,327.1 L467.8,326.4 L474.3,326.4 L475.8,327.1 L490.8,329.3 L496.0,331.2 L497.1,338.7" stroke="#666" stroke-width="1.43" fill="none" />
<path d="M445.8,338.7 Q443.8,345.1 442.3,353.1 M497.1,338.7 Q498.8,344.1 500.3,351.1" stroke="#444" stroke-width="0.99" fill="none" />
<path d="M441.3,340.1 Q439.8,347.1 440.3,354.1 M501.3,340.1 Q502.8,347.1 502.3,353.1" stroke="#444" stroke-width="0.99" fill="none" />
<path d="M448.3,339.7 L457.1,339.7 L462.6,345.9" stroke="#222" stroke-width="1.7" fill="none" />
<path d="M449.3,343.3 L455.6,343.3 L458.8,346.5" stroke="#222" stroke-width="1.5" fill="none" />
<path d="M448.3,339.7 Q444.8,343.1 446.8,349.1" stroke="#333" stroke-width="1.32" fill="none" />
<path d="M459.0,352.7 L462.1,357.7" stroke="#2a2a2a" stroke-width="1.1" fill="none" />
<path d="M456.3,353.5 L457.8,357.7" stroke="#2a2a2a" stroke-width="0.99" fill="none" />
<path d="M493.3,339.7 L484.5,339.7 L479.0,345.9" stroke="#222" stroke-width="1.7" fill="none" />
<path d="M492.3,343.3 L486.0,343.3 L482.8,346.5" stroke="#222" stroke-width="1.5" fill="none" />
<path d="M493.3,339.7 Q496.8,343.1 494.8,349.1" stroke="#333" stroke-width="1.32" fill="none" />
<path d="M482.6,352.7 L479.5,357.7" stroke="#2a2a2a" stroke-width="1.1" fill="none" />
<path d="M485.3,353.5 L483.8,357.7" stroke="#2a2a2a" stroke-width="0.99" fill="none" />
<rect x="454.8" y="347.7" width="32" height="4.9" rx="2.4" stroke="#222" stroke-width="1.6" fill="#fff"/>
<circle cx="452.70" cy="350.60" r="3.3" stroke="#1c1c1c" stroke-width="1.9" fill="#fff"/>
<circle cx="452.70" cy="350.60" r="1.3" stroke="#777" stroke-width="0.66" fill="none"/>
<circle cx="488.90" cy="350.60" r="3.3" stroke="#1c1c1c" stroke-width="1.9" fill="#fff"/>
<circle cx="488.90" cy="350.60" r="1.3" stroke="#777" stroke-width="0.66" fill="none"/>
<line x1="461.14" y1="295.57" x2="418.82" y2="330.91" stroke="#222" stroke-width="1.32"/>
<line x1="480.46" y1="295.57" x2="522.78" y2="330.91" stroke="#222" stroke-width="1.32"/>
<path d="M464.0,287.5 L465.1,286.4 L466.4,285.5 L467.8,284.8 L469.3,284.4 L470.8,284.3 L472.3,284.4 L473.8,284.8 L475.2,285.5 L476.5,286.4 L477.6,287.5 L478.9,288.6 L480.2,289.7 L481.6,290.8 L482.9,291.9 L484.2,293.0 L485.6,294.1 L486.9,295.2 L488.3,296.4 L489.6,297.5 L490.9,298.6 L492.3,299.7 L493.6,300.8 L494.9,301.9 L496.3,303.0 L497.6,304.1 L498.9,305.3 L500.3,306.4 L501.6,307.5 L503.0,308.6 L504.3,309.7 L505.6,310.8 L507.0,311.9 L508.3,313.0 L509.6,314.2 L511.0,315.3 L512.3,316.4 L513.7,317.5 L515.0,318.6 L516.3,319.7 L517.7,320.8 L519.0,321.9 L520.3,323.0 L521.7,324.2 L523.0,325.3 L524.4,326.4 L525.7,327.5 L527.0,328.6 L528.4,329.7 L529.7,330.8 L531.0,331.9 L531.8,332.7 L532.5,333.5 L533.1,334.4 L533.6,335.4 L533.9,336.4 L534.1,337.5 L534.2,338.5 L534.2,339.6 L534.0,340.7 L533.7,341.7 L533.2,342.7 L532.7,343.6 L532.0,344.5 L531.3,345.2 L530.4,345.9 L529.3,346.6 L527.8,347.6 L526.0,348.8 L524.0,350.1 L522.0,351.4 L520.1,352.6 L518.4,353.5 L516.9,354.2 L515.4,354.8 L514.1,355.4 L512.7,355.8 L511.4,356.2 L510.1,356.6 L508.8,357.0 L507.5,357.4 L506.3,357.7 L505.2,358.0 L504.0,358.2 L502.8,358.5 L501.5,358.7 L500.2,358.9 L498.7,359.1 L497.2,359.3 L495.6,359.5 L494.0,359.7 L492.3,359.8 L490.7,360.0 L489.2,360.1 L487.7,360.2 L486.2,360.3 L484.7,360.4 L483.3,360.5 L481.8,360.5 L480.4,360.6 L479.1,360.6 L477.8,360.6 L476.6,360.7 L475.4,360.7 L474.3,360.7 L473.1,360.7 L472.0,360.7 L470.8,360.7 L469.6,360.7 L468.5,360.7 L467.3,360.7 L466.2,360.7 L465.0,360.7 L463.8,360.6 L462.5,360.6 L461.2,360.6 L459.8,360.5 L458.3,360.5 L456.9,360.4 L455.4,360.3 L453.9,360.2 L452.4,360.1 L450.9,360.0 L449.3,359.8 L447.6,359.7 L446.0,359.5 L444.4,359.3 L442.9,359.1 L441.4,358.9 L440.1,358.7 L438.8,358.5 L437.6,358.2 L436.4,358.0 L435.3,357.7 L434.1,357.4 L432.8,357.0 L431.5,356.6 L430.2,356.2 L428.9,355.8 L427.5,355.4 L426.2,354.8 L424.7,354.2 L423.2,353.5 L421.5,352.6 L419.6,351.4 L417.6,350.1 L415.6,348.8 L413.8,347.6 L412.3,346.6 L411.2,345.9 L410.3,345.2 L409.6,344.5 L408.9,343.6 L408.4,342.7 L407.9,341.7 L407.6,340.7 L407.4,339.6 L407.4,338.5 L407.5,337.5 L407.7,336.4 L408.0,335.4 L408.5,334.4 L409.1,333.5 L409.8,332.7 L410.6,331.9 L411.9,330.8 L413.2,329.7 L414.6,328.6 L415.9,327.5 L417.2,326.4 L418.6,325.3 L419.9,324.2 L421.3,323.0 L422.6,321.9 L423.9,320.8 L425.3,319.7 L426.6,318.6 L427.9,317.5 L429.3,316.4 L430.6,315.3 L432.0,314.2 L433.3,313.0 L434.6,311.9 L436.0,310.8 L437.3,309.7 L438.6,308.6 L440.0,307.5 L441.3,306.4 L442.7,305.3 L444.0,304.1 L445.3,303.0 L446.7,301.9 L448.0,300.8 L449.3,299.7 L450.7,298.6 L452.0,297.5 L453.3,296.4 L454.7,295.2 L456.0,294.1 L457.4,293.0 L458.7,291.9 L460.0,290.8 L461.4,289.7 L462.7,288.6 Z" stroke="#2c2c2c" stroke-width="7.4" fill="none" />
<ellipse cx="464.0" cy="287.5" rx="2.35" ry="2.05" transform="rotate(-48 464.0 287.5)" fill="#fff" stroke="none"/>
<ellipse cx="468.9" cy="284.5" rx="2.35" ry="2.05" transform="rotate(-13 468.9 284.5)" fill="#fff" stroke="none"/>
<ellipse cx="474.5" cy="285.1" rx="2.35" ry="2.05" transform="rotate(28 474.5 285.1)" fill="#fff" stroke="none"/>
<ellipse cx="479.1" cy="288.7" rx="2.35" ry="2.05" transform="rotate(40 479.1 288.7)" fill="#fff" stroke="none"/>
<ellipse cx="483.5" cy="292.4" rx="2.35" ry="2.05" transform="rotate(40 483.5 292.4)" fill="#fff" stroke="none"/>
<ellipse cx="488.0" cy="296.1" rx="2.35" ry="2.05" transform="rotate(40 488.0 296.1)" fill="#fff" stroke="none"/>
<ellipse cx="492.4" cy="299.8" rx="2.35" ry="2.05" transform="rotate(40 492.4 299.8)" fill="#fff" stroke="none"/>
<ellipse cx="496.9" cy="303.5" rx="2.35" ry="2.05" transform="rotate(40 496.9 303.5)" fill="#fff" stroke="none"/>
<ellipse cx="501.3" cy="307.2" rx="2.35" ry="2.05" transform="rotate(40 501.3 307.2)" fill="#fff" stroke="none"/>
<ellipse cx="505.7" cy="310.9" rx="2.35" ry="2.05" transform="rotate(40 505.7 310.9)" fill="#fff" stroke="none"/>
<ellipse cx="510.2" cy="314.6" rx="2.35" ry="2.05" transform="rotate(40 510.2 314.6)" fill="#fff" stroke="none"/>
<ellipse cx="514.6" cy="318.3" rx="2.35" ry="2.05" transform="rotate(40 514.6 318.3)" fill="#fff" stroke="none"/>
<ellipse cx="519.1" cy="322.0" rx="2.35" ry="2.05" transform="rotate(40 519.1 322.0)" fill="#fff" stroke="none"/>
<ellipse cx="523.5" cy="325.7" rx="2.35" ry="2.05" transform="rotate(40 523.5 325.7)" fill="#fff" stroke="none"/>
<ellipse cx="528.0" cy="329.4" rx="2.35" ry="2.05" transform="rotate(40 528.0 329.4)" fill="#fff" stroke="none"/>
<ellipse cx="532.3" cy="333.2" rx="2.35" ry="2.05" transform="rotate(52 532.3 333.2)" fill="#fff" stroke="none"/>
<ellipse cx="534.2" cy="338.6" rx="2.35" ry="2.05" transform="rotate(91 534.2 338.6)" fill="#fff" stroke="none"/>
<ellipse cx="532.4" cy="344.0" rx="2.35" ry="2.05" transform="rotate(126 532.4 344.0)" fill="#fff" stroke="none"/>
<ellipse cx="527.9" cy="347.6" rx="2.35" ry="2.05" transform="rotate(146 527.9 347.6)" fill="#fff" stroke="none"/>
<ellipse cx="523.1" cy="350.7" rx="2.35" ry="2.05" transform="rotate(147 523.1 350.7)" fill="#fff" stroke="none"/>
<ellipse cx="518.1" cy="353.7" rx="2.35" ry="2.05" transform="rotate(154 518.1 353.7)" fill="#fff" stroke="none"/>
<ellipse cx="512.7" cy="355.8" rx="2.35" ry="2.05" transform="rotate(162 512.7 355.8)" fill="#fff" stroke="none"/>
<ellipse cx="507.2" cy="357.5" rx="2.35" ry="2.05" transform="rotate(165 507.2 357.5)" fill="#fff" stroke="none"/>
<ellipse cx="501.5" cy="358.7" rx="2.35" ry="2.05" transform="rotate(171 501.5 358.7)" fill="#fff" stroke="none"/>
<ellipse cx="495.8" cy="359.5" rx="2.35" ry="2.05" transform="rotate(174 495.8 359.5)" fill="#fff" stroke="none"/>
<ellipse cx="490.0" cy="360.0" rx="2.35" ry="2.05" transform="rotate(175 490.0 360.0)" fill="#fff" stroke="none"/>
<ellipse cx="484.3" cy="360.4" rx="2.35" ry="2.05" transform="rotate(177 484.3 360.4)" fill="#fff" stroke="none"/>
<ellipse cx="478.5" cy="360.6" rx="2.35" ry="2.05" transform="rotate(178 478.5 360.6)" fill="#fff" stroke="none"/>
<ellipse cx="472.7" cy="360.7" rx="2.35" ry="2.05" transform="rotate(180 472.7 360.7)" fill="#fff" stroke="none"/>
<ellipse cx="466.9" cy="360.7" rx="2.35" ry="2.05" transform="rotate(-180 466.9 360.7)" fill="#fff" stroke="none"/>
<ellipse cx="461.1" cy="360.6" rx="2.35" ry="2.05" transform="rotate(-178 461.1 360.6)" fill="#fff" stroke="none"/>
<ellipse cx="455.4" cy="360.3" rx="2.35" ry="2.05" transform="rotate(-177 455.4 360.3)" fill="#fff" stroke="none"/>
<ellipse cx="449.6" cy="359.9" rx="2.35" ry="2.05" transform="rotate(-175 449.6 359.9)" fill="#fff" stroke="none"/>
<ellipse cx="443.8" cy="359.2" rx="2.35" ry="2.05" transform="rotate(-173 443.8 359.2)" fill="#fff" stroke="none"/>
<ellipse cx="438.1" cy="358.3" rx="2.35" ry="2.05" transform="rotate(-169 438.1 358.3)" fill="#fff" stroke="none"/>
<ellipse cx="432.5" cy="356.9" rx="2.35" ry="2.05" transform="rotate(-164 432.5 356.9)" fill="#fff" stroke="none"/>
<ellipse cx="427.0" cy="355.2" rx="2.35" ry="2.05" transform="rotate(-160 427.0 355.2)" fill="#fff" stroke="none"/>
<ellipse cx="421.8" cy="352.7" rx="2.35" ry="2.05" transform="rotate(-150 421.8 352.7)" fill="#fff" stroke="none"/>
<ellipse cx="416.9" cy="349.7" rx="2.35" ry="2.05" transform="rotate(-147 416.9 349.7)" fill="#fff" stroke="none"/>
<ellipse cx="412.0" cy="346.5" rx="2.35" ry="2.05" transform="rotate(-147 412.0 346.5)" fill="#fff" stroke="none"/>
<ellipse cx="408.2" cy="342.3" rx="2.35" ry="2.05" transform="rotate(-115 408.2 342.3)" fill="#fff" stroke="none"/>
<ellipse cx="407.6" cy="336.7" rx="2.35" ry="2.05" transform="rotate(-77 407.6 336.7)" fill="#fff" stroke="none"/>
<ellipse cx="410.7" cy="331.8" rx="2.35" ry="2.05" transform="rotate(-40 410.7 331.8)" fill="#fff" stroke="none"/>
<ellipse cx="415.1" cy="328.1" rx="2.35" ry="2.05" transform="rotate(-40 415.1 328.1)" fill="#fff" stroke="none"/>
<ellipse cx="419.6" cy="324.5" rx="2.35" ry="2.05" transform="rotate(-40 419.6 324.5)" fill="#fff" stroke="none"/>
<ellipse cx="424.0" cy="320.8" rx="2.35" ry="2.05" transform="rotate(-40 424.0 320.8)" fill="#fff" stroke="none"/>
<ellipse cx="428.5" cy="317.1" rx="2.35" ry="2.05" transform="rotate(-40 428.5 317.1)" fill="#fff" stroke="none"/>
<ellipse cx="432.9" cy="313.4" rx="2.35" ry="2.05" transform="rotate(-40 432.9 313.4)" fill="#fff" stroke="none"/>
<ellipse cx="437.4" cy="309.7" rx="2.35" ry="2.05" transform="rotate(-40 437.4 309.7)" fill="#fff" stroke="none"/>
<ellipse cx="441.8" cy="306.0" rx="2.35" ry="2.05" transform="rotate(-40 441.8 306.0)" fill="#fff" stroke="none"/>
<ellipse cx="446.3" cy="302.3" rx="2.35" ry="2.05" transform="rotate(-40 446.3 302.3)" fill="#fff" stroke="none"/>
<ellipse cx="450.7" cy="298.6" rx="2.35" ry="2.05" transform="rotate(-40 450.7 298.6)" fill="#fff" stroke="none"/>
<ellipse cx="455.2" cy="294.9" rx="2.35" ry="2.05" transform="rotate(-40 455.2 294.9)" fill="#fff" stroke="none"/>
<ellipse cx="459.6" cy="291.2" rx="2.35" ry="2.05" transform="rotate(-40 459.6 291.2)" fill="#fff" stroke="none"/>
<path d="M478.2,293.1 L475.7,294.9 L476.5,297.9 L473.4,297.6 L472.1,300.4 L469.9,298.2 L467.1,299.5 L466.8,296.4 L463.8,295.6 L465.6,293.1 L463.8,290.6 L466.8,289.8 L467.1,286.7 L469.9,288.0 L472.1,285.8 L473.4,288.6 L476.5,288.3 L475.7,291.3 Z" stroke="#2a2a2a" stroke-width="1.32" fill="#fff" />
<circle cx="470.80" cy="293.10" r="4.7" stroke="#222" stroke-width="2.0" fill="#fff"/>
<circle cx="470.80" cy="293.10" r="2.4" stroke="#555" stroke-width="0.88" fill="#fff"/>
<path d="M424.0,338.7 L421.5,340.6 L422.2,343.7 L419.0,343.5 L417.6,346.4 L415.2,344.2 L412.3,345.5 L411.9,342.3 L408.9,341.4 L410.6,338.7 L408.9,336.0 L411.9,335.1 L412.3,331.9 L415.2,333.2 L417.6,331.0 L419.0,333.9 L422.2,333.7 L421.5,336.8 Z" stroke="#2a2a2a" stroke-width="1.32" fill="#fff" />
<circle cx="416.20" cy="338.70" r="4.2" stroke="#222" stroke-width="2.0" fill="#fff"/>
<circle cx="416.20" cy="338.70" r="2.0" stroke="#555" stroke-width="0.88" fill="#fff"/>
<path d="M533.2,338.7 L530.7,340.6 L531.4,343.7 L528.2,343.5 L526.8,346.4 L524.4,344.2 L521.5,345.5 L521.1,342.3 L518.1,341.4 L519.8,338.7 L518.1,336.0 L521.1,335.1 L521.5,331.9 L524.4,333.2 L526.8,331.0 L528.2,333.9 L531.4,333.7 L530.7,336.8 Z" stroke="#2a2a2a" stroke-width="1.32" fill="#fff" />
<circle cx="525.40" cy="338.70" r="4.2" stroke="#222" stroke-width="2.0" fill="#fff"/>
<circle cx="525.40" cy="338.70" r="2.0" stroke="#555" stroke-width="0.88" fill="#fff"/>
</g>
<path d="M15.1,57.2 C16.3,63 19,73 25.2,82" stroke="#333" stroke-width="0.99" fill="none" />
<path d="M172.3,41 C178,47 180.5,52 180.3,57 C180,65 178,72 175,80" stroke="#333" stroke-width="0.99" fill="none" />
<path d="M554.5,176 L509,214.5" stroke="#333" stroke-width="0.99" fill="none" />
<path d="M206,216.8 C211,222 217,225.5 224,225.7 C232,225.5 239,223.5 244.7,220.2" stroke="#333" stroke-width="0.99" fill="none" />
<path d="M211,262.5 C219,270 228,277.5 235.4,281.8 C242,285.5 248,287.5 253.6,288.6" stroke="#333" stroke-width="0.99" fill="none" />
<path d="M198.2,288.5 C199,296 202,303 207,308.7 L213,311" stroke="#333" stroke-width="0.99" fill="none" />
<path d="M554.5,260 L520,260 C508,259.6 497,258.5 487.5,256.2 L478,251.5" stroke="#333" stroke-width="0.99" fill="none" />
<path d="M195.2,356 C198,348 208,341.5 223.7,340.8" stroke="#333" stroke-width="0.99" fill="none" />
<path d="M229.6,378.6 C236,371 242,365 249.7,359.3" stroke="#333" stroke-width="0.99" fill="none" />
<path d="M265.2,387.8 C270,383 274,379 276,374.4 L279.4,364.3" stroke="#333" stroke-width="0.99" fill="none" />
<path d="M550.3,344.3 L536,350.2" stroke="#333" stroke-width="0.99" fill="none" />
<path d="M573.8,367.8 L563.8,370.3" stroke="#333" stroke-width="0.99" fill="none" />
<path d="M526.8,373.7 L535.2,369.5" stroke="#333" stroke-width="0.99" fill="none" />
<text transform="translate(22.6 102) scale(0.94 1.08)" font-size="22" fill="#4a4a4a">2</text>
<text transform="translate(166.2 37.2) scale(0.94 1.08)" font-size="22" fill="#4a4a4a">6</text>
<text transform="translate(558.8 171.5) scale(0.94 1.08)" font-size="22" fill="#4a4a4a">3</text>
<text transform="translate(192 221.8) scale(0.94 1.08)" font-size="22" fill="#4a4a4a">5</text>
<text transform="translate(192 257.9) scale(0.94 1.08)" font-size="22" fill="#4a4a4a">30</text>
<text transform="translate(190.6 284.8) scale(0.94 1.08)" font-size="22" fill="#4a4a4a">1</text>
<text transform="translate(558.8 264.5) scale(0.94 1.08)" font-size="22" fill="#4a4a4a">39</text>
<text transform="translate(179.2 374.7) scale(0.94 1.08)" font-size="22" fill="#4a4a4a">31</text>
<text transform="translate(214.8 396.5) scale(0.94 1.08)" font-size="22" fill="#4a4a4a">32</text>
<text transform="translate(250.1 406.6) scale(0.94 1.08)" font-size="22" fill="#4a4a4a">33</text>
<text transform="translate(555.2 348.5) scale(0.94 1.08)" font-size="22" fill="#4a4a4a">42</text>
<text transform="translate(575.4 372) scale(0.94 1.08)" font-size="22" fill="#4a4a4a">40</text>
<text transform="translate(501.5 390.4) scale(0.94 1.08)" font-size="22" fill="#4a4a4a">41</text>
</svg>
</body>
</html>
